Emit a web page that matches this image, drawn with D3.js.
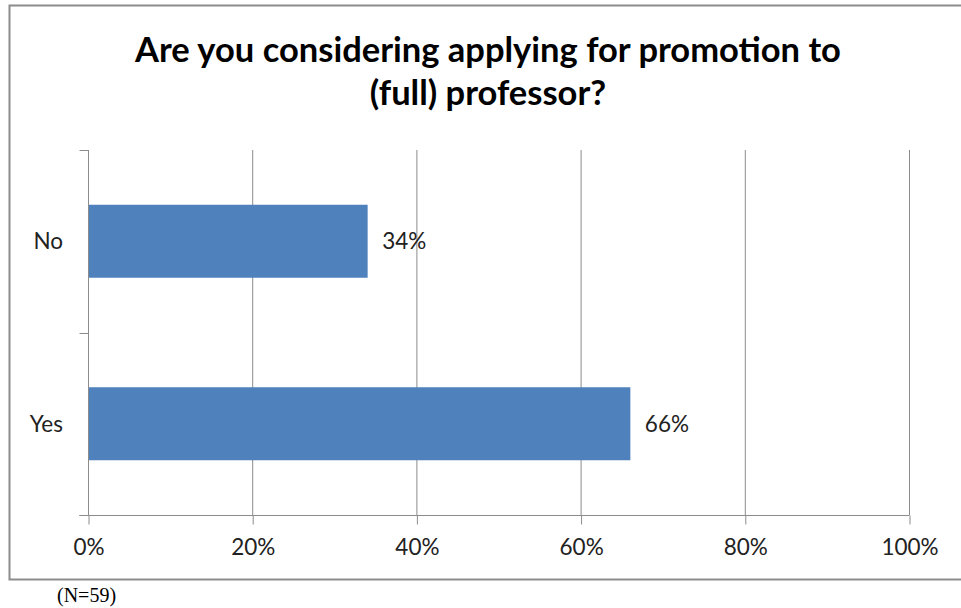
<!DOCTYPE html>
<html>
<head>
<meta charset="utf-8">
<script src="https://cdn.jsdelivr.net/npm/d3@7"></script>
<style>
  html, body { margin: 0; padding: 0; background: #fff; }
  svg { display: block; }
</style>
</head>
<body>
<svg id="chart" width="961" height="608"></svg>
<script>
// Survey responses
const categories = ["No", "Yes"];
const values = [34, 66];
const xTicks = [0, 20, 40, 60, 80, 100];
const titleLines = ["Are you considering applying for promotion to", "(full) professor?"];
const footnote = "(N=59)";

const svg = d3.select("#chart");
const font = "Lato, 'Open Sans', sans-serif";
const labelSize = 22.5;

// Chart frame
svg.append("rect")
  .attr("x", 9.5).attr("y", 5.5)
  .attr("width", 962).attr("height", 574)
  .attr("fill", "#fff")
  .attr("stroke", "#8c8c8c").attr("stroke-width", 2);

const plot = { left: 88, right: 909, top: 150, bottom: 515 };

const x = d3.scaleLinear().domain([0, 100]).range([plot.left, plot.right]);
const y = d3.scaleBand().domain(categories.slice().reverse())
  .range([plot.bottom, plot.top]).paddingInner(0.6).paddingOuter(0.3);

// Vertical gridlines
svg.append("g")
  .selectAll("line")
  .data(xTicks.filter(d => d > 0))
  .join("line")
  .attr("x1", d => x(d) + 0.5).attr("x2", d => x(d) + 0.5)
  .attr("y1", plot.top).attr("y2", plot.bottom)
  .attr("stroke", "#8c8c8c").attr("stroke-width", 1);

// Bars
svg.append("g")
  .selectAll("rect")
  .data(categories)
  .join("rect")
  .attr("x", x(0) + 0.5)
  .attr("y", d => y(d))
  .attr("width", (d, i) => x(values[i]) - x(0))
  .attr("height", y.bandwidth())
  .attr("fill", "#4f81bd");

// Value labels
svg.append("g")
  .selectAll("text")
  .data(categories)
  .join("text")
  .attr("x", (d, i) => x(values[i]) + 15)
  .attr("y", d => y(d) + y.bandwidth() / 2)
  .attr("dy", "0.35em")
  .attr("font-family", font).attr("font-size", labelSize).attr("fill", "#222")
  .text((d, i) => values[i] + "%");

// X axis
const xAxis = d3.axisBottom(x).tickValues(xTicks).tickSize(9).tickPadding(15)
  .tickFormat(d => d + "%");
const gx = svg.append("g").attr("transform", `translate(0.5,${plot.bottom + 0.5})`).call(xAxis);
gx.select(".domain").attr("d", `M${plot.left - 9},0H${plot.right}`).attr("stroke", "#8c8c8c");
gx.selectAll(".tick line").attr("stroke", "#8c8c8c");
gx.selectAll(".tick text").attr("font-family", font).attr("font-size", labelSize).attr("fill", "#222");

// Y axis: category boundary ticks
const gy = svg.append("g").attr("transform", `translate(${plot.left + 0.5},0)`);
gy.append("line").attr("y1", plot.top).attr("y2", plot.bottom).attr("stroke", "#8c8c8c");
gy.selectAll("line.tk")
  .data([plot.top, (plot.top + plot.bottom) / 2, plot.bottom])
  .join("line").attr("class", "tk")
  .attr("x1", -9).attr("x2", 0)
  .attr("y1", d => Math.round(d) + 0.5).attr("y2", d => Math.round(d) + 0.5)
  .attr("stroke", "#8c8c8c");
svg.append("g")
  .selectAll("text")
  .data(categories)
  .join("text")
  .attr("x", 63)
  .attr("y", d => y(d) + y.bandwidth() / 2)
  .attr("dy", "0.35em")
  .attr("text-anchor", "end")
  .attr("font-family", font).attr("font-size", labelSize).attr("fill", "#222")
  .text(d => d);

// Title
svg.append("g")
  .selectAll("text")
  .data(titleLines)
  .join("text")
  .attr("x", 488)
  .attr("y", (d, i) => 62 + i * 43)
  .attr("text-anchor", "middle")
  .attr("font-family", font).attr("font-weight", "bold").attr("font-size", 34.5).attr("fill", "#000")
  .text(d => d);

// Sample size note
svg.append("text")
  .attr("x", 57).attr("y", 602)
  .attr("font-family", "'Liberation Serif', serif").attr("font-size", 20).attr("fill", "#000")
  .text(footnote);
</script>
</body>
</html>
